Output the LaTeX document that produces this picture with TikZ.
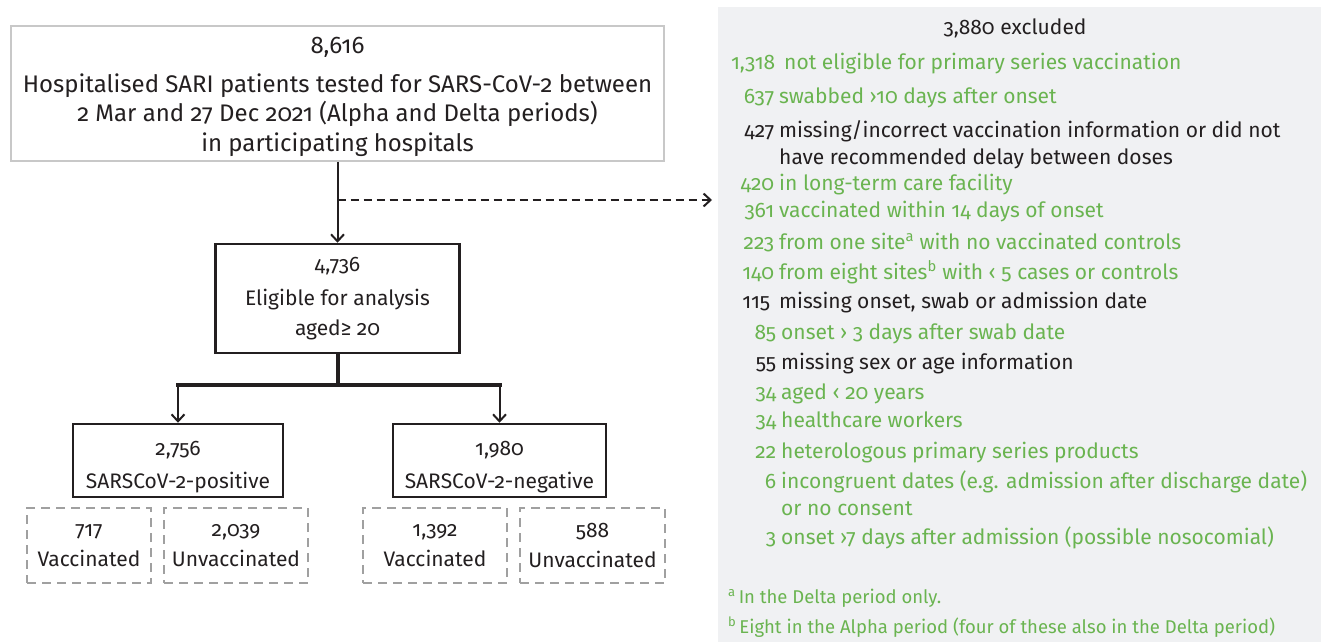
\documentclass[tikz,border=0pt]{standalone}
\usepackage{fontspec}
\setmainfont{Fira Sans}[Numbers=OldStyle]
\usetikzlibrary{arrows.meta}
\definecolor{exgreen}{RGB}{106,180,80}
\definecolor{panelgray}{RGB}{240,241,243}
\definecolor{ink}{RGB}{35,31,32}
\definecolor{topgray}{RGB}{200,200,200}
\definecolor{dashgray}{RGB}{160,160,160}
\newcommand{\itm}[3][5pt]{\makebox[0pt][r]{#2}\hspace{#1}#3}
\begin{document}
\begin{tikzpicture}[x=1pt,y=-1pt,
  every node/.style={text=ink},
  topbox/.style={draw=topgray, line width=1.5pt, inner sep=0pt, align=center,
    font=\fontsize{24}{29.5}\selectfont},
  solidbox/.style={draw=ink, line width=2.5pt, inner sep=0pt, align=center,
    font=\fontsize{21}{30}\selectfont},
  vbox/.style={draw=dashgray, line width=2pt, dash pattern=on 9pt off 6pt,
    inner sep=0pt, align=center, font=\fontsize{21}{30}\selectfont},
  conn/.style={draw=ink, line width=2pt, -{Straight Barb[length=7pt,width=13pt,line width=2pt]}},
  trunk/.style={draw=ink, line width=4pt, line cap=rect},
  exarrow/.style={draw=ink, line width=2.5pt, dash pattern=on 8pt off 5pt,
    -{Straight Barb[length=7pt,width=13pt,line width=2pt]}},
  item/.style={anchor=base west, inner sep=0pt, font=\fontsize{21}{24}\selectfont},
  gitem/.style={item, text=exgreen},
  kitem/.style={item, text=ink},
  fnote/.style={gitem, font=\fontsize{18.5}{22}\selectfont}]
\useasboundingbox (0,0) rectangle (1321,642);

% exclusion panel
\node[fill=panelgray, minimum width=603pt, minimum height=635pt, inner sep=0pt,
  anchor=north west] (panel) at (718,7) {};

% main boxes
\node[topbox, minimum width=653pt, minimum height=135pt] (top) at (337.5,93.5)
  {\rule{0pt}{23pt}8,616\\[9pt]Hospitalised SARI patients tested for SARS-CoV-2 between\\
   2 Mar and 27 Dec 2021 (Alpha and Delta periods)\\ in participating hospitals};
\node[solidbox, minimum width=244pt, minimum height=109pt] (elig) at (337.5,298.5)
  {4,736\\[4pt]Eligible for analysis\\ aged≥ 20};
\node[solidbox, minimum width=210pt, minimum height=73pt] (pos) at (178,460.5)
  {\rule{0pt}{27pt}2,756\\[3pt]SARSCoV-2-positive};
\node[solidbox, minimum width=213pt, minimum height=73pt] (neg) at (499.5,460.5)
  {\rule{0pt}{27pt}1,980\\[3pt]SARSCoV-2-negative};
\node[vbox, minimum width=124pt, minimum height=75pt] (pv) at (89,545.5)
  {717\\Vaccinated};
\node[vbox, minimum width=144pt, minimum height=75pt] (pu) at (236,545.5)
  {2,039\\Unvaccinated};
\node[vbox, minimum width=144pt, minimum height=75pt] (nv) at (435,545.5)
  {1,392\\Vaccinated};
\node[vbox, minimum width=145pt, minimum height=75pt] (nu) at (592.5,545.5)
  {588\\Unvaccinated};

% connectors
\coordinate (j) at (337.5,200);
\draw[conn] (top.south) -- (elig.north);
\draw[exarrow, shorten >=6pt] (j) -- (panel.west |- j);
\coordinate (b) at (337.5,385);
\draw[trunk] (elig.south) -- (b);
\draw[trunk] (pos.north |- b) -- (neg.north |- b);
\draw[conn] (pos.north |- b) -- (pos.north);
\draw[conn] (neg.north |- b) -- (neg.north);

% exclusion list
\node[kitem, anchor=base] (h) at (1015,35) {3,880 excluded};
\node[gitem] (e1) at (775,69) {\itm[9pt]{1,318}{not eligible for primary series vaccination}};
\node[gitem] (e2) at (774,103) {\itm{637}{swabbed ›10 days after onset}};
\node[kitem] (e3) at (774,137) {\itm{427}{missing/incorrect vaccination information or did not}};
\node[kitem] (e3b) at (779,164) {have recommended delay between doses};
\node[gitem] (e4) at (774,190) {\itm{420}{in long-term care facility}};
\node[gitem] (e5) at (774,217) {\itm{361}{vaccinated within 14 days of onset}};
\node[gitem] (e6) at (774,249) {\itm{223}{from one site\textsuperscript{a} with no vaccinated controls}};
\node[gitem] (e7) at (774,279) {\itm{140}{from eight sites\textsuperscript{b} with ‹ 5 cases or controls}};
\node[kitem] (e8) at (770,308) {\itm[9pt]{115}{missing onset, swab or admission date}};
\node[gitem] (e9) at (776,339) {\itm{85}{onset › 3 days after swab date}};
\node[kitem] (e10) at (776,369) {\itm{55}{missing sex or age information}};
\node[gitem] (e11) at (776,399) {\itm{34}{aged ‹ 20 years}};
\node[gitem] (e12) at (776,427) {\itm{34}{healthcare workers}};
\node[gitem] (e13) at (776,458) {\itm{22}{heterologous primary series products}};
\node[gitem] (e14) at (776,488) {\itm{6}{incongruent dates (e.g. admission after discharge date)}};
\node[gitem] (e14b) at (781,515) {or no consent};
\node[gitem] (e15) at (776,544) {\itm{3}{onset ›7 days after admission (possible nosocomial)}};
\node[fnote] (fa) at (728,603) {\textsuperscript{a}\hspace{3pt}In the Delta period only.};
\node[fnote] (fb) at (728,633) {\textsuperscript{b}\hspace{3pt}Eight in the Alpha period (four of these also in the Delta period)};
\end{tikzpicture}
\end{document}
